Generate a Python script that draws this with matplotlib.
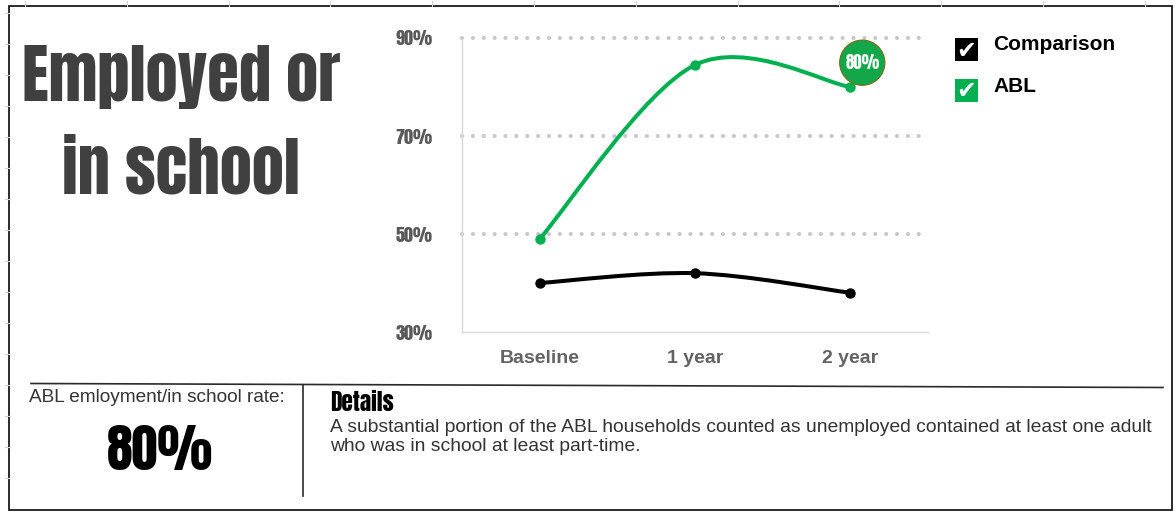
import matplotlib
matplotlib.use("Agg")
import matplotlib.pyplot as plt
from matplotlib.patches import Rectangle, PathPatch
from matplotlib.path import Path
import numpy as np

# ---------------- data ----------------
categories = ["Baseline", "1 year", "2 year"]
comparison = [40, 42, 38]
abl = [49, 84.5, 80]
y_ticks = [30, 50, 70, 90]
y_tick_labels = ["30%", "50%", "70%", "90%"]
series_names = ["Comparison", "ABL"]
rate_label = "ABL emloyment/in school rate:"
rate_value = "80%"
title_lines = ["Employed or", "in school"]
details_title = "Details"
details_text = ("A substantial portion of the ABL households counted as unemployed contained at least one adult\n"
                "who was in school at least part-time.")

GREEN = "#00B050"
BLACK = "#000000"
GRAY_TXT = "#595959"
COND = "Anton"
SANS = "Liberation Sans"

W, H = 1175, 512
fig = plt.figure(figsize=(W / 100, H / 100), dpi=100)
bg = fig.add_axes([0, 0, 1, 1], zorder=0)
bg.set_xlim(0, W)
bg.set_ylim(H, 0)
bg.axis("off")
renderer = fig.canvas.get_renderer()


def fit_width(t, target):
    bb = t.get_window_extent(renderer)
    t.set_fontsize(t.get_fontsize() * target / bb.width)
    return t.get_fontsize()


def size_for(text, target, family, weight="normal"):
    p = bg.text(0, 0, text, family=family, weight=weight, fontsize=20)
    s = fit_width(p, target)
    p.remove()
    return s


# ---------------- frame & decorations ----------------
bg.add_patch(Rectangle((9, 6), 1163, 504, fill=False, ec="#1a1a1a", lw=1.3))
for x in np.arange(25, 1175, 101.8):
    bg.plot([x, x], [1, 6], color="#d0d0d0", lw=0.8)
for y in np.arange(13, 500, 31):
    bg.plot([5, 9], [y, y], color="#d0d0d0", lw=0.8)
bg.plot([31, 1163], [383.5, 387.5], color="#2a2a2a", lw=1.2)
bg.plot([302.5, 302.5], [385, 496], color="#2a2a2a", lw=1.2)

# ---------------- title ----------------
t1 = bg.text(181, 101, title_lines[0], ha="center", va="baseline", family=COND, color="#404040", fontsize=40)
ts = fit_width(t1, 318)
bg.text(181, 193, title_lines[1], ha="center", va="baseline", family=COND, color="#404040", fontsize=ts)

# ---------------- bottom panel ----------------
rl = bg.text(157, 397, rate_label, ha="center", va="center", family=SANS, color="#333333", fontsize=12.5)
fit_width(rl, 259)
big = bg.text(160, 451, rate_value, ha="center", va="center", family=COND, color="black", fontsize=40)
fit_width(big, 106)
det = bg.text(330, 411, details_title, ha="left", va="baseline", family=COND, color="black", fontsize=14)
fit_width(det, 64)
dt = bg.text(330, 418.5, details_text, ha="left", va="top", family=SANS, color="#333333", fontsize=13,
             linespacing=1.2)
bb = dt.get_window_extent(renderer)
dt.set_fontsize(13 * 820 / bb.width)

# ---------------- legend ----------------
leg_colors = [BLACK, GREEN]
leg_y = [49, 90]
for name, c, yc in zip(series_names, leg_colors, leg_y):
    bg.add_patch(Rectangle((955, yc - 11.5), 23, 23, fc=c, ec="none"))
    bg.text(966, yc + 1.5, "\u2714", ha="center", va="center", color="white", fontsize=17,
            family="DejaVu Sans", weight="bold")
    lt = bg.text(993, yc - 4, name, ha="left", va="center", family=SANS, weight="bold", color="black",
                 fontsize=14)
    if name == series_names[0]:
        lsize = fit_width(lt, 122)
    else:
        lt.set_fontsize(lsize)

# ---------------- chart ----------------
ax = fig.add_axes([462 / W, 1 - 332 / H, 466 / W, 294 / H], zorder=2)
ax.patch.set_alpha(0)
x = np.arange(len(categories))
ax.set_xlim(-0.5, 2.5)
ax.set_ylim(30, 90)
for s in ["top", "right"]:
    ax.spines[s].set_visible(False)
for s in ["left", "bottom"]:
    ax.spines[s].set_color("#d9d9d9")
    ax.spines[s].set_linewidth(1.0)
for g in y_ticks[1:]:
    ax.axhline(g, color="#c8c8c8", lw=3.0, ls=(0, (0.01, 2.6)), dash_capstyle="round", zorder=1,
               clip_on=False)

tick_size = size_for("90%", 37, COND)
ax.set_yticks(y_ticks)
ax.set_yticklabels(y_tick_labels, family=COND, color=GRAY_TXT, fontsize=tick_size)
ax.set_xticks(x)
ax.set_xticklabels(categories, family=SANS, weight="bold", color="#636363", fontsize=14)
ax.tick_params(axis="y", length=0, pad=21)
ax.tick_params(axis="x", length=0, pad=13)


def smooth_path(xs, ys):
    pts = np.column_stack([xs, ys]).astype(float)
    n = len(pts)
    verts = [pts[0]]
    codes = [Path.MOVETO]
    for i in range(n - 1):
        p_prev = pts[i - 1] if i > 0 else pts[i]
        p_next2 = pts[i + 2] if i + 2 < n else pts[i + 1]
        c1 = pts[i] + (pts[i + 1] - p_prev) / 6.0
        c2 = pts[i + 1] - (p_next2 - pts[i]) / 6.0
        verts += [c1, c2, pts[i + 1]]
        codes += [Path.CURVE4] * 3
    return Path(verts, codes)


for vals, c in [(comparison, BLACK), (abl, GREEN)]:
    ax.add_patch(PathPatch(smooth_path(x, vals), fill=False, ec=c, lw=2.9, capstyle="round",
                           joinstyle="round", zorder=3))
    ax.plot(x, vals, ls="none", marker="o", ms=6.5, color=c, zorder=4)

bub_size = size_for(rate_value, 34, COND)
ax.annotate(rate_value, xy=(x[-1], abl[-1]), xytext=(8.6, 17.5), textcoords="offset points",
            ha="center", va="center", family=COND, color="white", fontsize=bub_size,
            bbox=dict(boxstyle="circle,pad=0.33", fc="#12A84A", ec="#7a6a1a", lw=0.8), zorder=5)

fig.savefig("out.png", dpi=100)
